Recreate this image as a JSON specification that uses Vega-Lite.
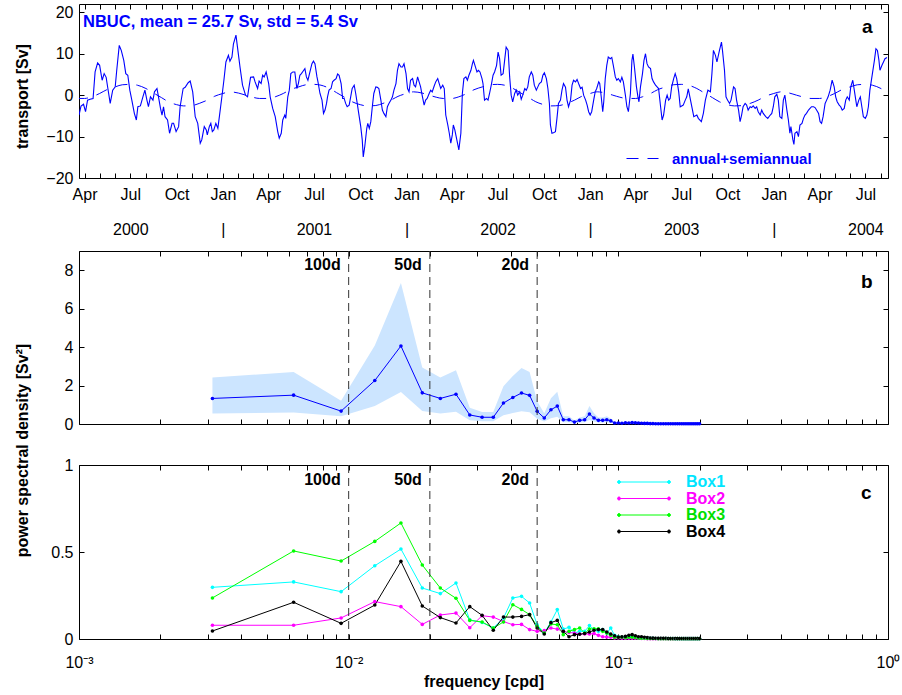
{
"$schema": "https://vega.github.io/schema/vega-lite/v6.json",
"padding": {"left": 13, "top": 3, "right": 3, "bottom": 5},
"background": "white",
"config": {
  "font": "Liberation Sans",
  "view": {"stroke": "#000000", "strokeWidth": 1},
  "axis": {"domain": false, "grid": false, "tickSize": -5, "tickColor": "#000000", "tickWidth": 1,
    "labelFont": "Liberation Sans", "labelFontSize": 16, "labelColor": "#000000",
    "titleFont": "Liberation Sans", "titleFontSize": 16, "titleFontWeight": "bold", "titleColor": "#000000",
    "labelFlush": false, "labelOverlap": false, "labelBound": false}
},
"datasets": {
"series": [
{"date":"2000-03-21","v":-4.8},{"date":"2000-03-25","v":-2.65},{"date":"2000-03-30","v":-2.2},{"date":"2000-04-03","v":-4.0},{"date":"2000-04-07","v":-1.2},{"date":"2000-04-12","v":-1.0},{"date":"2000-04-18","v":-0.8},{"date":"2000-04-22","v":5.6},{"date":"2000-04-27","v":7.8},{"date":"2000-05-01","v":7.2},{"date":"2000-05-06","v":3.6},{"date":"2000-05-10","v":5.2},{"date":"2000-05-14","v":4.3},{"date":"2000-05-17","v":1.9},{"date":"2000-05-22","v":-2.0},{"date":"2000-05-27","v":1.2},{"date":"2000-06-01","v":2.0},{"date":"2000-06-04","v":6.0},{"date":"2000-06-09","v":12.0},{"date":"2000-06-13","v":10.8},{"date":"2000-06-18","v":8.4},{"date":"2000-06-22","v":5.2},{"date":"2000-06-26","v":4.8},{"date":"2000-06-30","v":1.2},{"date":"2000-07-04","v":-1.2},{"date":"2000-07-09","v":-4.4},{"date":"2000-07-13","v":-6.0},{"date":"2000-07-16","v":-2.8},{"date":"2000-07-21","v":-2.6},{"date":"2000-07-26","v":-0.4},{"date":"2000-07-30","v":1.2},{"date":"2000-08-03","v":-1.2},{"date":"2000-08-06","v":-2.8},{"date":"2000-08-10","v":-0.4},{"date":"2000-08-15","v":-1.2},{"date":"2000-08-18","v":0.8},{"date":"2000-08-23","v":1.6},{"date":"2000-08-26","v":-0.4},{"date":"2000-08-30","v":-3.2},{"date":"2000-09-02","v":-4.8},{"date":"2000-09-05","v":-2.8},{"date":"2000-09-08","v":-5.2},{"date":"2000-09-13","v":-6.0},{"date":"2000-09-17","v":-9.2},{"date":"2000-09-22","v":-6.8},{"date":"2000-09-25","v":-6.8},{"date":"2000-09-30","v":-8.8},{"date":"2000-10-05","v":-7.6},{"date":"2000-10-08","v":-2.8},{"date":"2000-10-14","v":1.6},{"date":"2000-10-18","v":1.9},{"date":"2000-10-24","v":3.0},{"date":"2000-10-28","v":3.4},{"date":"2000-11-02","v":0.8},{"date":"2000-11-07","v":-5.2},{"date":"2000-11-12","v":-6.8},{"date":"2000-11-17","v":-11.6},{"date":"2000-11-20","v":-10.8},{"date":"2000-11-25","v":-7.6},{"date":"2000-11-29","v":-8.4},{"date":"2000-12-01","v":-9.6},{"date":"2000-12-05","v":-7.6},{"date":"2000-12-08","v":-6.8},{"date":"2000-12-11","v":-8.8},{"date":"2000-12-14","v":-8.4},{"date":"2000-12-18","v":-6.8},{"date":"2000-12-22","v":-8.0},{"date":"2000-12-25","v":-5.2},{"date":"2000-12-30","v":-0.4},
{"date":"2001-01-03","v":3.6},{"date":"2001-01-07","v":8.0},{"date":"2001-01-12","v":9.6},{"date":"2001-01-15","v":8.2},{"date":"2001-01-19","v":9.2},{"date":"2001-01-22","v":12.4},{"date":"2001-01-27","v":14.5},{"date":"2001-01-30","v":11.6},{"date":"2001-02-04","v":6.8},{"date":"2001-02-09","v":2.4},{"date":"2001-02-12","v":1.2},{"date":"2001-02-15","v":0.0},{"date":"2001-02-19","v":-0.4},{"date":"2001-02-22","v":2.0},{"date":"2001-02-25","v":4.3},{"date":"2001-03-03","v":4.4},{"date":"2001-03-06","v":3.2},{"date":"2001-03-11","v":1.6},{"date":"2001-03-14","v":3.4},{"date":"2001-03-18","v":2.8},{"date":"2001-03-21","v":4.8},{"date":"2001-03-24","v":4.4},{"date":"2001-03-28","v":5.6},{"date":"2001-04-02","v":2.8},{"date":"2001-04-05","v":-0.4},{"date":"2001-04-10","v":-3.2},{"date":"2001-04-15","v":-5.2},{"date":"2001-04-20","v":-8.8},{"date":"2001-04-23","v":-10.4},{"date":"2001-04-27","v":-9.2},{"date":"2001-04-30","v":-6.0},{"date":"2001-05-04","v":-4.8},{"date":"2001-05-06","v":-5.6},{"date":"2001-05-10","v":-0.4},{"date":"2001-05-13","v":1.2},{"date":"2001-05-16","v":5.2},{"date":"2001-05-20","v":5.6},{"date":"2001-05-24","v":5.6},{"date":"2001-05-28","v":1.6},{"date":"2001-05-31","v":2.8},{"date":"2001-06-03","v":4.8},{"date":"2001-06-06","v":5.2},{"date":"2001-06-10","v":5.9},{"date":"2001-06-13","v":6.4},{"date":"2001-06-16","v":4.4},{"date":"2001-06-19","v":3.6},{"date":"2001-06-23","v":5.6},{"date":"2001-06-27","v":7.6},{"date":"2001-06-30","v":8.2},{"date":"2001-07-03","v":7.6},{"date":"2001-07-07","v":4.4},{"date":"2001-07-09","v":3.2},{"date":"2001-07-13","v":0.4},{"date":"2001-07-17","v":-1.2},{"date":"2001-07-20","v":-4.4},{"date":"2001-07-23","v":-3.6},{"date":"2001-07-26","v":-2.0},{"date":"2001-07-28","v":-0.4},{"date":"2001-07-31","v":1.2},{"date":"2001-08-04","v":1.6},{"date":"2001-08-07","v":3.2},{"date":"2001-08-10","v":3.6},{"date":"2001-08-14","v":4.0},{"date":"2001-08-17","v":5.1},{"date":"2001-08-20","v":4.8},{"date":"2001-08-24","v":2.8},{"date":"2001-08-27","v":-0.8},{"date":"2001-08-30","v":-0.8},{"date":"2001-09-02","v":-2.0},{"date":"2001-09-05","v":-2.8},{"date":"2001-09-09","v":-2.4},{"date":"2001-09-12","v":-0.4},{"date":"2001-09-15","v":1.6},{"date":"2001-09-19","v":2.4},{"date":"2001-09-22","v":0.4},{"date":"2001-09-25","v":-2.0},{"date":"2001-09-28","v":-4.4},{"date":"2001-10-02","v":-7.6},{"date":"2001-10-05","v":-10.8},{"date":"2001-10-07","v":-14.9},{"date":"2001-10-10","v":-12.4},{"date":"2001-10-14","v":-8.0},{"date":"2001-10-16","v":-6.8},{"date":"2001-10-19","v":-8.0},{"date":"2001-10-22","v":-6.4},{"date":"2001-10-25","v":-2.8},{"date":"2001-10-28","v":0.4},{"date":"2001-11-01","v":2.0},{"date":"2001-11-04","v":1.9},{"date":"2001-11-07","v":1.6},{"date":"2001-11-11","v":-1.2},{"date":"2001-11-14","v":-3.6},{"date":"2001-11-17","v":-4.4},{"date":"2001-11-21","v":-5.2},{"date":"2001-11-24","v":-2.8},{"date":"2001-11-27","v":-2.0},{"date":"2001-12-01","v":-1.2},{"date":"2001-12-04","v":-0.4},{"date":"2001-12-07","v":1.2},{"date":"2001-12-11","v":2.8},{"date":"2001-12-14","v":6.0},{"date":"2001-12-17","v":7.6},{"date":"2001-12-21","v":6.8},{"date":"2001-12-24","v":6.8},{"date":"2001-12-27","v":7.6},{"date":"2001-12-31","v":5.2},
{"date":"2002-01-03","v":1.6},{"date":"2002-01-06","v":0.8},{"date":"2002-01-09","v":3.6},{"date":"2002-01-13","v":4.0},{"date":"2002-01-16","v":2.4},{"date":"2002-01-19","v":2.0},{"date":"2002-01-23","v":4.4},{"date":"2002-01-26","v":3.2},{"date":"2002-01-29","v":2.0},{"date":"2002-02-01","v":0.0},{"date":"2002-02-05","v":-2.4},{"date":"2002-02-08","v":-1.2},{"date":"2002-02-11","v":-0.8},{"date":"2002-02-15","v":0.4},{"date":"2002-02-18","v":1.2},{"date":"2002-02-21","v":0.8},{"date":"2002-02-25","v":2.2},{"date":"2002-02-28","v":3.2},{"date":"2002-03-04","v":4.0},{"date":"2002-03-07","v":2.8},{"date":"2002-03-10","v":1.6},{"date":"2002-03-14","v":2.4},{"date":"2002-03-17","v":1.6},{"date":"2002-03-20","v":-4.8},{"date":"2002-03-24","v":-7.2},{"date":"2002-03-27","v":-9.2},{"date":"2002-03-30","v":-11.6},{"date":"2002-04-02","v":-9.6},{"date":"2002-04-04","v":-7.2},{"date":"2002-04-07","v":-8.4},{"date":"2002-04-11","v":-10.8},{"date":"2002-04-15","v":-13.2},{"date":"2002-04-19","v":-9.2},{"date":"2002-04-22","v":0.4},{"date":"2002-04-25","v":4.0},{"date":"2002-04-29","v":4.4},{"date":"2002-05-02","v":3.6},{"date":"2002-05-05","v":4.8},{"date":"2002-05-09","v":6.0},{"date":"2002-05-12","v":7.6},{"date":"2002-05-14","v":8.4},{"date":"2002-05-17","v":7.2},{"date":"2002-05-21","v":5.6},{"date":"2002-05-24","v":6.0},{"date":"2002-05-27","v":5.6},{"date":"2002-05-31","v":4.0},{"date":"2002-06-02","v":2.8},{"date":"2002-06-05","v":-1.2},{"date":"2002-06-09","v":-0.8},{"date":"2002-06-12","v":-1.2},{"date":"2002-06-15","v":0.4},{"date":"2002-06-19","v":2.8},{"date":"2002-06-22","v":4.8},{"date":"2002-06-25","v":5.6},{"date":"2002-06-29","v":7.2},{"date":"2002-07-02","v":10.4},{"date":"2002-07-05","v":8.8},{"date":"2002-07-08","v":4.8},{"date":"2002-07-12","v":5.2},{"date":"2002-07-15","v":8.4},{"date":"2002-07-18","v":11.6},{"date":"2002-07-22","v":10.8},{"date":"2002-07-25","v":4.4},{"date":"2002-07-28","v":0.0},{"date":"2002-07-31","v":-1.6},{"date":"2002-08-04","v":0.4},{"date":"2002-08-07","v":1.2},{"date":"2002-08-10","v":0.0},{"date":"2002-08-14","v":0.8},{"date":"2002-08-17","v":-1.0},{"date":"2002-08-20","v":0.0},{"date":"2002-08-24","v":1.6},{"date":"2002-08-27","v":1.2},{"date":"2002-08-30","v":2.0},{"date":"2002-09-02","v":4.4},{"date":"2002-09-06","v":5.6},{"date":"2002-09-09","v":4.8},{"date":"2002-09-12","v":2.4},{"date":"2002-09-16","v":1.2},{"date":"2002-09-19","v":2.0},{"date":"2002-09-22","v":2.8},{"date":"2002-09-26","v":3.2},{"date":"2002-09-29","v":4.8},{"date":"2002-10-02","v":5.4},{"date":"2002-10-06","v":4.0},{"date":"2002-10-09","v":1.6},{"date":"2002-10-12","v":-2.0},{"date":"2002-10-14","v":-7.2},{"date":"2002-10-17","v":-9.2},{"date":"2002-10-20","v":-9.1},{"date":"2002-10-24","v":-8.8},{"date":"2002-10-27","v":-5.6},{"date":"2002-10-30","v":-2.0},{"date":"2002-11-03","v":-1.2},{"date":"2002-11-06","v":1.2},{"date":"2002-11-09","v":2.8},{"date":"2002-11-13","v":1.9},{"date":"2002-11-16","v":-1.2},{"date":"2002-11-19","v":-2.8},{"date":"2002-11-23","v":-1.2},{"date":"2002-11-26","v":2.4},{"date":"2002-11-29","v":3.6},{"date":"2002-12-03","v":3.2},{"date":"2002-12-06","v":3.8},{"date":"2002-12-09","v":2.8},{"date":"2002-12-13","v":1.6},{"date":"2002-12-16","v":1.9},{"date":"2002-12-19","v":0.0},{"date":"2002-12-23","v":-1.2},{"date":"2002-12-26","v":-2.4},{"date":"2002-12-29","v":-4.0},
{"date":"2003-01-01","v":-4.8},{"date":"2003-01-04","v":-4.0},{"date":"2003-01-08","v":-1.2},{"date":"2003-01-11","v":0.8},{"date":"2003-01-14","v":1.6},{"date":"2003-01-18","v":3.2},{"date":"2003-01-20","v":2.8},{"date":"2003-01-23","v":-0.4},{"date":"2003-01-26","v":-4.0},{"date":"2003-01-28","v":-1.6},{"date":"2003-01-31","v":4.0},{"date":"2003-02-03","v":7.2},{"date":"2003-02-06","v":9.2},{"date":"2003-02-10","v":8.8},{"date":"2003-02-13","v":9.1},{"date":"2003-02-16","v":7.2},{"date":"2003-02-20","v":4.4},{"date":"2003-02-23","v":3.6},{"date":"2003-02-26","v":4.0},{"date":"2003-03-02","v":3.2},{"date":"2003-03-05","v":4.3},{"date":"2003-03-08","v":3.2},{"date":"2003-03-12","v":0.0},{"date":"2003-03-15","v":-2.8},{"date":"2003-03-18","v":-4.0},{"date":"2003-03-22","v":0.4},{"date":"2003-03-25","v":8.4},{"date":"2003-03-27","v":9.9},{"date":"2003-03-30","v":6.8},{"date":"2003-04-03","v":2.0},{"date":"2003-04-06","v":-0.4},{"date":"2003-04-08","v":-1.6},{"date":"2003-04-11","v":2.0},{"date":"2003-04-15","v":5.2},{"date":"2003-04-18","v":8.4},{"date":"2003-04-21","v":10.0},{"date":"2003-04-24","v":7.6},{"date":"2003-04-27","v":6.8},{"date":"2003-05-01","v":6.4},{"date":"2003-05-04","v":4.0},{"date":"2003-05-07","v":3.2},{"date":"2003-05-11","v":2.4},{"date":"2003-05-14","v":2.0},{"date":"2003-05-17","v":1.6},{"date":"2003-05-21","v":-2.8},{"date":"2003-05-24","v":-6.0},{"date":"2003-05-27","v":-4.8},{"date":"2003-05-31","v":-1.2},{"date":"2003-06-03","v":0.0},{"date":"2003-06-06","v":-1.2},{"date":"2003-06-09","v":-0.8},{"date":"2003-06-12","v":2.0},{"date":"2003-06-16","v":4.0},{"date":"2003-06-19","v":5.2},{"date":"2003-06-22","v":4.0},{"date":"2003-06-26","v":0.8},{"date":"2003-06-29","v":-2.8},{"date":"2003-07-02","v":-2.6},{"date":"2003-07-05","v":-2.4},{"date":"2003-07-09","v":-1.2},{"date":"2003-07-12","v":-0.4},{"date":"2003-07-15","v":1.5},{"date":"2003-07-26","v":-5.2},{"date":"2003-08-01","v":-4.8},{"date":"2003-08-04","v":-5.6},{"date":"2003-08-10","v":-6.4},{"date":"2003-08-14","v":-4.4},{"date":"2003-08-18","v":-1.2},{"date":"2003-08-23","v":1.2},{"date":"2003-08-28","v":0.8},{"date":"2003-08-31","v":5.2},{"date":"2003-09-03","v":10.8},{"date":"2003-09-07","v":9.6},{"date":"2003-09-10","v":8.0},{"date":"2003-09-15","v":10.8},{"date":"2003-09-19","v":12.8},{"date":"2003-09-21","v":10.8},{"date":"2003-09-25","v":6.0},{"date":"2003-09-28","v":-0.4},{"date":"2003-10-01","v":-1.2},{"date":"2003-10-05","v":-2.0},{"date":"2003-10-08","v":-1.2},{"date":"2003-10-13","v":2.0},{"date":"2003-10-16","v":1.6},{"date":"2003-10-19","v":-1.2},{"date":"2003-10-23","v":-3.6},{"date":"2003-10-26","v":-6.4},{"date":"2003-10-29","v":-4.8},{"date":"2003-11-01","v":-2.8},{"date":"2003-11-05","v":-2.0},{"date":"2003-11-08","v":-2.4},{"date":"2003-11-11","v":-3.6},{"date":"2003-11-15","v":-2.8},{"date":"2003-11-18","v":-3.0},{"date":"2003-11-21","v":-2.6},{"date":"2003-11-25","v":-3.2},{"date":"2003-11-28","v":-2.8},{"date":"2003-12-01","v":-4.0},{"date":"2003-12-05","v":-4.8},{"date":"2003-12-08","v":-3.6},{"date":"2003-12-11","v":-4.4},{"date":"2003-12-16","v":-5.2},{"date":"2003-12-20","v":-5.6},{"date":"2003-12-25","v":-4.8},{"date":"2003-12-28","v":-4.4},{"date":"2003-12-31","v":-2.8},
{"date":"2004-01-03","v":-0.4},{"date":"2004-01-07","v":0.2},{"date":"2004-01-10","v":-1.2},{"date":"2004-01-13","v":-5.2},{"date":"2004-01-17","v":-5.6},{"date":"2004-01-20","v":-1.2},{"date":"2004-01-23","v":0.0},{"date":"2004-01-27","v":-3.6},{"date":"2004-01-30","v":-6.0},{"date":"2004-02-02","v":-9.2},{"date":"2004-02-04","v":-7.6},{"date":"2004-02-08","v":-10.8},{"date":"2004-02-10","v":-11.9},{"date":"2004-02-12","v":-9.2},{"date":"2004-02-16","v":-8.8},{"date":"2004-02-19","v":-10.0},{"date":"2004-02-22","v":-7.2},{"date":"2004-02-26","v":-6.8},{"date":"2004-02-29","v":-5.6},{"date":"2004-03-03","v":-4.8},{"date":"2004-03-06","v":-4.4},{"date":"2004-03-10","v":-3.6},{"date":"2004-03-13","v":-3.2},{"date":"2004-03-16","v":-2.8},{"date":"2004-03-20","v":-2.8},{"date":"2004-03-23","v":-3.0},{"date":"2004-03-26","v":-3.6},{"date":"2004-03-30","v":-4.4},{"date":"2004-04-02","v":-6.4},{"date":"2004-04-05","v":-6.8},{"date":"2004-04-08","v":-5.2},{"date":"2004-04-12","v":-2.0},{"date":"2004-04-15","v":-1.2},{"date":"2004-04-18","v":-0.4},{"date":"2004-04-22","v":1.2},{"date":"2004-04-26","v":3.6},{"date":"2004-04-30","v":2.0},{"date":"2004-05-03","v":-0.4},{"date":"2004-05-06","v":-1.6},{"date":"2004-05-10","v":-2.4},{"date":"2004-05-13","v":-2.8},{"date":"2004-05-16","v":-3.6},{"date":"2004-05-20","v":-3.2},{"date":"2004-05-23","v":-1.2},{"date":"2004-05-26","v":-0.4},{"date":"2004-05-30","v":-1.2},{"date":"2004-06-02","v":2.0},{"date":"2004-06-06","v":3.6},{"date":"2004-06-09","v":1.2},{"date":"2004-06-12","v":-1.2},{"date":"2004-06-14","v":-2.8},{"date":"2004-06-18","v":-1.2},{"date":"2004-06-21","v":-0.4},{"date":"2004-06-24","v":-2.8},{"date":"2004-06-27","v":-5.2},{"date":"2004-07-01","v":-5.6},{"date":"2004-07-04","v":-4.8},{"date":"2004-07-07","v":-2.8},{"date":"2004-07-10","v":1.2},{"date":"2004-07-15","v":5.2},{"date":"2004-07-19","v":8.4},{"date":"2004-07-22","v":11.2},{"date":"2004-07-25","v":10.8},{"date":"2004-07-28","v":8.4},{"date":"2004-07-30","v":6.0},{"date":"2004-08-03","v":7.2},{"date":"2004-08-06","v":8.0},{"date":"2004-08-09","v":8.8},{"date":"2004-08-13","v":9.1}
],
"seasonal": [
{"date":"2000-03-15","v":-0.8},{"date":"2000-04-01","v":-0.8},{"date":"2000-04-15","v":-0.4},{"date":"2000-05-01","v":0.4},{"date":"2000-05-15","v":1.3},{"date":"2000-06-01","v":2.0},{"date":"2000-06-15","v":2.5},{"date":"2000-07-01","v":2.6},{"date":"2000-07-15","v":2.4},{"date":"2000-08-01","v":1.6},{"date":"2000-08-15","v":0.6},{"date":"2000-09-01","v":-0.6},{"date":"2000-09-15","v":-1.6},{"date":"2000-10-01","v":-2.3},{"date":"2000-10-15","v":-2.6},{"date":"2000-11-01","v":-2.5},{"date":"2000-11-15","v":-2.0},{"date":"2000-12-01","v":-1.2},{"date":"2000-12-15","v":-0.3},
{"date":"2001-01-01","v":0.4},{"date":"2001-01-15","v":0.8},{"date":"2001-02-01","v":0.5},{"date":"2001-02-15","v":0.0},{"date":"2001-03-01","v":-0.5},{"date":"2001-03-15","v":-0.8},{"date":"2001-04-01","v":-0.8},{"date":"2001-04-15","v":-0.4},{"date":"2001-05-01","v":0.4},{"date":"2001-05-15","v":1.3},{"date":"2001-06-01","v":2.0},{"date":"2001-06-15","v":2.5},{"date":"2001-07-01","v":2.6},{"date":"2001-07-15","v":2.4},{"date":"2001-08-01","v":1.6},{"date":"2001-08-15","v":0.6},{"date":"2001-09-01","v":-0.6},{"date":"2001-09-15","v":-1.6},{"date":"2001-10-01","v":-2.3},{"date":"2001-10-15","v":-2.6},{"date":"2001-11-01","v":-2.5},{"date":"2001-11-15","v":-2.0},{"date":"2001-12-01","v":-1.2},{"date":"2001-12-15","v":-0.3},
{"date":"2002-01-01","v":0.4},{"date":"2002-01-15","v":0.8},{"date":"2002-02-01","v":0.5},{"date":"2002-02-15","v":0.0},{"date":"2002-03-01","v":-0.5},{"date":"2002-03-15","v":-0.8},{"date":"2002-04-01","v":-0.8},{"date":"2002-04-15","v":-0.4},{"date":"2002-05-01","v":0.4},{"date":"2002-05-15","v":1.3},{"date":"2002-06-01","v":2.0},{"date":"2002-06-15","v":2.5},{"date":"2002-07-01","v":2.6},{"date":"2002-07-15","v":2.4},{"date":"2002-08-01","v":1.6},{"date":"2002-08-15","v":0.6},{"date":"2002-09-01","v":-0.6},{"date":"2002-09-15","v":-1.6},{"date":"2002-10-01","v":-2.3},{"date":"2002-10-15","v":-2.6},{"date":"2002-11-01","v":-2.5},{"date":"2002-11-15","v":-2.0},{"date":"2002-12-01","v":-1.2},{"date":"2002-12-15","v":-0.3},
{"date":"2003-01-01","v":0.4},{"date":"2003-01-15","v":0.8},{"date":"2003-02-01","v":0.5},{"date":"2003-02-15","v":0.0},{"date":"2003-03-01","v":-0.5},{"date":"2003-03-15","v":-0.8},{"date":"2003-04-01","v":-0.8},{"date":"2003-04-15","v":-0.4},{"date":"2003-05-01","v":0.4},{"date":"2003-05-15","v":1.3},{"date":"2003-06-01","v":2.0},{"date":"2003-06-15","v":2.5},{"date":"2003-07-01","v":2.6},{"date":"2003-07-15","v":2.4},{"date":"2003-08-01","v":1.6},{"date":"2003-08-15","v":0.6},{"date":"2003-09-01","v":-0.6},{"date":"2003-09-15","v":-1.6},{"date":"2003-10-01","v":-2.3},{"date":"2003-10-15","v":-2.6},{"date":"2003-11-01","v":-2.5},{"date":"2003-11-15","v":-2.0},{"date":"2003-12-01","v":-1.2},{"date":"2003-12-15","v":-0.3},
{"date":"2004-01-01","v":0.4},{"date":"2004-01-15","v":0.8},{"date":"2004-02-01","v":0.5},{"date":"2004-02-15","v":0.0},{"date":"2004-03-01","v":-0.5},{"date":"2004-03-15","v":-0.8},{"date":"2004-04-01","v":-0.8},{"date":"2004-04-15","v":-0.4},{"date":"2004-05-01","v":0.4},{"date":"2004-05-15","v":1.3},{"date":"2004-06-01","v":2.0},{"date":"2004-06-15","v":2.5},{"date":"2004-07-01","v":2.6},{"date":"2004-07-15","v":2.4},{"date":"2004-08-01","v":1.6},{"date":"2004-08-15","v":0.6}
],
"psd": [
{"f":0.003125,"psd":1.33,"lo":0.55,"hi":2.42},{"f":0.00625,"psd":1.5,"lo":0.6,"hi":2.71},{"f":0.009375,"psd":0.67,"lo":0.4,"hi":1.21},{"f":0.0125,"psd":2.26,"lo":0.93,"hi":4.08},{"f":0.015625,"psd":4.06,"lo":1.66,"hi":7.34},{"f":0.01875,"psd":1.62,"lo":0.67,"hi":2.94},{"f":0.021875,"psd":1.33,"lo":0.55,"hi":2.42},{"f":0.025,"psd":1.55,"lo":0.64,"hi":2.8},{"f":0.028125,"psd":0.47,"lo":0.19,"hi":0.85},{"f":0.03125,"psd":0.35,"lo":0.14,"hi":0.63},{"f":0.034375,"psd":0.35,"lo":0.14,"hi":0.63},{"f":0.0375,"psd":1.09,"lo":0.45,"hi":1.97},{"f":0.040625,"psd":1.38,"lo":0.57,"hi":2.5},{"f":0.04375,"psd":1.61,"lo":0.66,"hi":2.91},{"f":0.046875,"psd":1.49,"lo":0.61,"hi":2.7},{"f":0.05,"psd":0.66,"lo":0.27,"hi":1.19},{"f":0.053125,"psd":0.31,"lo":0.13,"hi":0.56},{"f":0.05625,"psd":0.74,"lo":0.3,"hi":1.34},{"f":0.059375,"psd":0.93,"lo":0.38,"hi":1.68},{"f":0.0625,"psd":0.22,"lo":0.09,"hi":0.4},{"f":0.065625,"psd":0.22,"lo":0.09,"hi":0.4},{"f":0.06875,"psd":0.1,"lo":0.04,"hi":0.18},{"f":0.071875,"psd":0.19,"lo":0.08,"hi":0.34},{"f":0.075,"psd":0.22,"lo":0.09,"hi":0.4},{"f":0.078125,"psd":0.52,"lo":0.21,"hi":0.94},{"f":0.08125,"psd":0.31,"lo":0.13,"hi":0.56},{"f":0.084375,"psd":0.19,"lo":0.08,"hi":0.34},{"f":0.0875,"psd":0.19,"lo":0.08,"hi":0.34},{"f":0.090625,"psd":0.22,"lo":0.09,"hi":0.4},{"f":0.09375,"psd":0.16,"lo":0.07,"hi":0.29},{"f":0.096875,"psd":0.05,"lo":0.02,"hi":0.09},{"f":0.1,"psd":0.05,"lo":0.02,"hi":0.09},{"f":0.103125,"psd":0.04,"lo":0.02,"hi":0.07},{"f":0.10625,"psd":0.06,"lo":0.02,"hi":0.11},{"f":0.109375,"psd":0.05,"lo":0.02,"hi":0.09},{"f":0.1125,"psd":0.07,"lo":0.03,"hi":0.13},{"f":0.115625,"psd":0.06,"lo":0.02,"hi":0.11},{"f":0.11875,"psd":0.05,"lo":0.02,"hi":0.09},{"f":0.121875,"psd":0.04,"lo":0.02,"hi":0.07},{"f":0.125,"psd":0.03,"lo":0.01,"hi":0.05},{"f":0.128125,"psd":0.03,"lo":0.01,"hi":0.05},{"f":0.13125,"psd":0.02,"lo":0.01,"hi":0.04},{"f":0.134375,"psd":0.02,"lo":0.01,"hi":0.04},{"f":0.1375,"psd":0.01,"lo":0.004,"hi":0.02},{"f":0.140625,"psd":0.01,"lo":0.004,"hi":0.02},{"f":0.14375,"psd":0.01,"lo":0.004,"hi":0.02},{"f":0.146875,"psd":0.01,"lo":0.004,"hi":0.02},{"f":0.15,"psd":0.01,"lo":0.004,"hi":0.02},{"f":0.153125,"psd":0.01,"lo":0.004,"hi":0.02},{"f":0.15625,"psd":0.01,"lo":0.004,"hi":0.02},{"f":0.159375,"psd":0.01,"lo":0.004,"hi":0.02},{"f":0.1625,"psd":0.01,"lo":0.004,"hi":0.02},{"f":0.165625,"psd":0.01,"lo":0.004,"hi":0.02},{"f":0.16875,"psd":0.01,"lo":0.004,"hi":0.02},{"f":0.171875,"psd":0.01,"lo":0.004,"hi":0.02},{"f":0.175,"psd":0.01,"lo":0.004,"hi":0.02},{"f":0.178125,"psd":0.01,"lo":0.004,"hi":0.02},{"f":0.18125,"psd":0.01,"lo":0.004,"hi":0.02},{"f":0.184375,"psd":0.01,"lo":0.004,"hi":0.02},{"f":0.1875,"psd":0.01,"lo":0.004,"hi":0.02},{"f":0.190625,"psd":0.01,"lo":0.004,"hi":0.02},{"f":0.19375,"psd":0.01,"lo":0.004,"hi":0.02},{"f":0.196875,"psd":0.01,"lo":0.004,"hi":0.02},{"f":0.2,"psd":0.01,"lo":0.004,"hi":0.02}
],
"boxes": [
{"f":0.003125,"box":"Box1","p":0.297},{"f":0.003125,"box":"Box2","p":0.079},{"f":0.003125,"box":"Box3","p":0.236},{"f":0.003125,"box":"Box4","p":0.046},
{"f":0.00625,"box":"Box1","p":0.328},{"f":0.00625,"box":"Box2","p":0.079},{"f":0.00625,"box":"Box3","p":0.506},{"f":0.00625,"box":"Box4","p":0.211},
{"f":0.009375,"box":"Box1","p":0.272},{"f":0.009375,"box":"Box2","p":0.121},{"f":0.009375,"box":"Box3","p":0.448},{"f":0.009375,"box":"Box4","p":0.09},
{"f":0.0125,"box":"Box1","p":0.421},{"f":0.0125,"box":"Box2","p":0.215},{"f":0.0125,"box":"Box3","p":0.561},{"f":0.0125,"box":"Box4","p":0.195},
{"f":0.015625,"box":"Box1","p":0.517},{"f":0.015625,"box":"Box2","p":0.186},{"f":0.015625,"box":"Box3","p":0.667},{"f":0.015625,"box":"Box4","p":0.446},
{"f":0.01875,"box":"Box1","p":0.293},{"f":0.01875,"box":"Box2","p":0.084},{"f":0.01875,"box":"Box3","p":0.425},{"f":0.01875,"box":"Box4","p":0.19},
{"f":0.021875,"box":"Box1","p":0.261},{"f":0.021875,"box":"Box2","p":0.138},{"f":0.021875,"box":"Box3","p":0.293},{"f":0.021875,"box":"Box4","p":0.123},
{"f":0.025,"box":"Box1","p":0.322},{"f":0.025,"box":"Box2","p":0.149},{"f":0.025,"box":"Box3","p":0.234},{"f":0.025,"box":"Box4","p":0.092},
{"f":0.028125,"box":"Box1","p":0.11},{"f":0.028125,"box":"Box2","p":0.065},{"f":0.028125,"box":"Box3","p":0.107},{"f":0.028125,"box":"Box4","p":0.186},
{"f":0.03125,"box":"Box1","p":0.095},{"f":0.03125,"box":"Box2","p":0.134},{"f":0.03125,"box":"Box3","p":0.098},{"f":0.03125,"box":"Box4","p":0.136},
{"f":0.034375,"box":"Box1","p":0.063},{"f":0.034375,"box":"Box2","p":0.126},{"f":0.034375,"box":"Box3","p":0.063},{"f":0.034375,"box":"Box4","p":0.05},
{"f":0.0375,"box":"Box1","p":0.12},{"f":0.0375,"box":"Box2","p":0.1},{"f":0.0375,"box":"Box3","p":0.098},{"f":0.0375,"box":"Box4","p":0.126},
{"f":0.040625,"box":"Box1","p":0.236},{"f":0.040625,"box":"Box2","p":0.082},{"f":0.040625,"box":"Box3","p":0.197},{"f":0.040625,"box":"Box4","p":0.126},
{"f":0.04375,"box":"Box1","p":0.245},{"f":0.04375,"box":"Box2","p":0.084},{"f":0.04375,"box":"Box3","p":0.17},{"f":0.04375,"box":"Box4","p":0.13},
{"f":0.046875,"box":"Box1","p":0.207},{"f":0.046875,"box":"Box2","p":0.054},{"f":0.046875,"box":"Box3","p":0.14},{"f":0.046875,"box":"Box4","p":0.14},
{"f":0.05,"box":"Box1","p":0.082},{"f":0.05,"box":"Box2","p":0.044},{"f":0.05,"box":"Box3","p":0.073},{"f":0.05,"box":"Box4","p":0.063},
{"f":0.053125,"box":"Box1","p":0.034},{"f":0.053125,"box":"Box2","p":0.048},{"f":0.053125,"box":"Box3","p":0.034},{"f":0.053125,"box":"Box4","p":0.029},
{"f":0.05625,"box":"Box1","p":0.098},{"f":0.05625,"box":"Box2","p":0.063},{"f":0.05625,"box":"Box3","p":0.086},{"f":0.05625,"box":"Box4","p":0.094},
{"f":0.059375,"box":"Box1","p":0.169},{"f":0.059375,"box":"Box2","p":0.057},{"f":0.059375,"box":"Box3","p":0.082},{"f":0.059375,"box":"Box4","p":0.107},
{"f":0.0625,"box":"Box1","p":0.057},{"f":0.0625,"box":"Box2","p":0.044},{"f":0.0625,"box":"Box3","p":0.025},{"f":0.0625,"box":"Box4","p":0.044},
{"f":0.065625,"box":"Box1","p":0.067},{"f":0.065625,"box":"Box2","p":0.038},{"f":0.065625,"box":"Box3","p":0.044},{"f":0.065625,"box":"Box4","p":0.013},
{"f":0.06875,"box":"Box1","p":0.034},{"f":0.06875,"box":"Box2","p":0.034},{"f":0.06875,"box":"Box3","p":0.054},{"f":0.06875,"box":"Box4","p":0.025},
{"f":0.071875,"box":"Box1","p":0.044},{"f":0.071875,"box":"Box2","p":0.029},{"f":0.071875,"box":"Box3","p":0.063},{"f":0.071875,"box":"Box4","p":0.027},
{"f":0.075,"box":"Box1","p":0.044},{"f":0.075,"box":"Box2","p":0.029},{"f":0.075,"box":"Box3","p":0.034},{"f":0.075,"box":"Box4","p":0.032},
{"f":0.078125,"box":"Box1","p":0.077},{"f":0.078125,"box":"Box2","p":0.029},{"f":0.078125,"box":"Box3","p":0.057},{"f":0.078125,"box":"Box4","p":0.04},
{"f":0.08125,"box":"Box1","p":0.054},{"f":0.08125,"box":"Box2","p":0.031},{"f":0.08125,"box":"Box3","p":0.059},{"f":0.08125,"box":"Box4","p":0.05},
{"f":0.084375,"box":"Box1","p":0.044},{"f":0.084375,"box":"Box2","p":0.021},{"f":0.084375,"box":"Box3","p":0.059},{"f":0.084375,"box":"Box4","p":0.054},
{"f":0.0875,"box":"Box1","p":0.054},{"f":0.0875,"box":"Box2","p":0.013},{"f":0.0875,"box":"Box3","p":0.044},{"f":0.0875,"box":"Box4","p":0.054},
{"f":0.090625,"box":"Box1","p":0.034},{"f":0.090625,"box":"Box2","p":0.011},{"f":0.090625,"box":"Box3","p":0.034},{"f":0.090625,"box":"Box4","p":0.04},
{"f":0.09375,"box":"Box1","p":0.063},{"f":0.09375,"box":"Box2","p":0.01},{"f":0.09375,"box":"Box3","p":0.021},{"f":0.09375,"box":"Box4","p":0.029},
{"f":0.096875,"box":"Box1","p":0.021},{"f":0.096875,"box":"Box2","p":0.006},{"f":0.096875,"box":"Box3","p":0.01},{"f":0.096875,"box":"Box4","p":0.019},
{"f":0.1,"box":"Box1","p":0.013},{"f":0.1,"box":"Box2","p":0.006},{"f":0.1,"box":"Box3","p":0.01},{"f":0.1,"box":"Box4","p":0.011},
{"f":0.103125,"box":"Box1","p":0.01},{"f":0.103125,"box":"Box2","p":0.004},{"f":0.103125,"box":"Box3","p":0.01},{"f":0.103125,"box":"Box4","p":0.013},
{"f":0.10625,"box":"Box1","p":0.013},{"f":0.10625,"box":"Box2","p":0.004},{"f":0.10625,"box":"Box3","p":0.008},{"f":0.10625,"box":"Box4","p":0.015},
{"f":0.109375,"box":"Box1","p":0.01},{"f":0.109375,"box":"Box2","p":0.004},{"f":0.109375,"box":"Box3","p":0.01},{"f":0.109375,"box":"Box4","p":0.021},
{"f":0.1125,"box":"Box1","p":0.013},{"f":0.1125,"box":"Box2","p":0.004},{"f":0.1125,"box":"Box3","p":0.01},{"f":0.1125,"box":"Box4","p":0.025},
{"f":0.115625,"box":"Box1","p":0.008},{"f":0.115625,"box":"Box2","p":0.004},{"f":0.115625,"box":"Box3","p":0.008},{"f":0.115625,"box":"Box4","p":0.019},
{"f":0.11875,"box":"Box1","p":0.006},{"f":0.11875,"box":"Box2","p":0.004},{"f":0.11875,"box":"Box3","p":0.006},{"f":0.11875,"box":"Box4","p":0.013},
{"f":0.121875,"box":"Box1","p":0.006},{"f":0.121875,"box":"Box2","p":0.003},{"f":0.121875,"box":"Box3","p":0.005},{"f":0.121875,"box":"Box4","p":0.013},
{"f":0.125,"box":"Box1","p":0.005},{"f":0.125,"box":"Box2","p":0.003},{"f":0.125,"box":"Box3","p":0.004},{"f":0.125,"box":"Box4","p":0.01},
{"f":0.128125,"box":"Box1","p":0.004},{"f":0.128125,"box":"Box2","p":0.002},{"f":0.128125,"box":"Box3","p":0.003},{"f":0.128125,"box":"Box4","p":0.008},
{"f":0.13125,"box":"Box1","p":0.004},{"f":0.13125,"box":"Box2","p":0.002},{"f":0.13125,"box":"Box3","p":0.003},{"f":0.13125,"box":"Box4","p":0.006},
{"f":0.134375,"box":"Box1","p":0.004},{"f":0.134375,"box":"Box2","p":0.002},{"f":0.134375,"box":"Box3","p":0.003},{"f":0.134375,"box":"Box4","p":0.005},
{"f":0.1375,"box":"Box1","p":0.003},{"f":0.1375,"box":"Box2","p":0.002},{"f":0.1375,"box":"Box3","p":0.003},{"f":0.1375,"box":"Box4","p":0.004},
{"f":0.140625,"box":"Box1","p":0.003},{"f":0.140625,"box":"Box2","p":0.002},{"f":0.140625,"box":"Box3","p":0.002},{"f":0.140625,"box":"Box4","p":0.004},
{"f":0.14375,"box":"Box1","p":0.003},{"f":0.14375,"box":"Box2","p":0.002},{"f":0.14375,"box":"Box3","p":0.002},{"f":0.14375,"box":"Box4","p":0.004},
{"f":0.146875,"box":"Box1","p":0.003},{"f":0.146875,"box":"Box2","p":0.002},{"f":0.146875,"box":"Box3","p":0.002},{"f":0.146875,"box":"Box4","p":0.004},
{"f":0.15,"box":"Box1","p":0.003},{"f":0.15,"box":"Box2","p":0.002},{"f":0.15,"box":"Box3","p":0.002},{"f":0.15,"box":"Box4","p":0.004},
{"f":0.153125,"box":"Box1","p":0.003},{"f":0.153125,"box":"Box2","p":0.002},{"f":0.153125,"box":"Box3","p":0.002},{"f":0.153125,"box":"Box4","p":0.003},
{"f":0.15625,"box":"Box1","p":0.003},{"f":0.15625,"box":"Box2","p":0.002},{"f":0.15625,"box":"Box3","p":0.002},{"f":0.15625,"box":"Box4","p":0.003},
{"f":0.159375,"box":"Box1","p":0.003},{"f":0.159375,"box":"Box2","p":0.002},{"f":0.159375,"box":"Box3","p":0.002},{"f":0.159375,"box":"Box4","p":0.003},
{"f":0.1625,"box":"Box1","p":0.002},{"f":0.1625,"box":"Box2","p":0.002},{"f":0.1625,"box":"Box3","p":0.002},{"f":0.1625,"box":"Box4","p":0.003},
{"f":0.165625,"box":"Box1","p":0.002},{"f":0.165625,"box":"Box2","p":0.002},{"f":0.165625,"box":"Box3","p":0.002},{"f":0.165625,"box":"Box4","p":0.003},
{"f":0.16875,"box":"Box1","p":0.002},{"f":0.16875,"box":"Box2","p":0.002},{"f":0.16875,"box":"Box3","p":0.002},{"f":0.16875,"box":"Box4","p":0.003},
{"f":0.171875,"box":"Box1","p":0.002},{"f":0.171875,"box":"Box2","p":0.002},{"f":0.171875,"box":"Box3","p":0.002},{"f":0.171875,"box":"Box4","p":0.003},
{"f":0.175,"box":"Box1","p":0.002},{"f":0.175,"box":"Box2","p":0.002},{"f":0.175,"box":"Box3","p":0.002},{"f":0.175,"box":"Box4","p":0.003},
{"f":0.178125,"box":"Box1","p":0.002},{"f":0.178125,"box":"Box2","p":0.002},{"f":0.178125,"box":"Box3","p":0.002},{"f":0.178125,"box":"Box4","p":0.003},
{"f":0.18125,"box":"Box1","p":0.002},{"f":0.18125,"box":"Box2","p":0.002},{"f":0.18125,"box":"Box3","p":0.002},{"f":0.18125,"box":"Box4","p":0.003},
{"f":0.184375,"box":"Box1","p":0.002},{"f":0.184375,"box":"Box2","p":0.002},{"f":0.184375,"box":"Box3","p":0.002},{"f":0.184375,"box":"Box4","p":0.003},
{"f":0.1875,"box":"Box1","p":0.002},{"f":0.1875,"box":"Box2","p":0.002},{"f":0.1875,"box":"Box3","p":0.002},{"f":0.1875,"box":"Box4","p":0.003},
{"f":0.190625,"box":"Box1","p":0.002},{"f":0.190625,"box":"Box2","p":0.002},{"f":0.190625,"box":"Box3","p":0.002},{"f":0.190625,"box":"Box4","p":0.003},
{"f":0.19375,"box":"Box1","p":0.002},{"f":0.19375,"box":"Box2","p":0.002},{"f":0.19375,"box":"Box3","p":0.002},{"f":0.19375,"box":"Box4","p":0.003},
{"f":0.196875,"box":"Box1","p":0.002},{"f":0.196875,"box":"Box2","p":0.002},{"f":0.196875,"box":"Box3","p":0.002},{"f":0.196875,"box":"Box4","p":0.003},
{"f":0.2,"box":"Box1","p":0.002},{"f":0.2,"box":"Box2","p":0.002},{"f":0.2,"box":"Box3","p":0.002},{"f":0.2,"box":"Box4","p":0.003}
],
"periods": [{"f":0.01,"label":"100d"},{"f":0.02,"label":"50d"},{"f":0.05,"label":"20d"}]
},
"resolve": {"scale": {"x": "independent", "y": "independent"}},
"bounds": "flush",
"spacing": 73,
"vconcat": [
{
  "width": 809, "height": 174,
  "resolve": {"axis": {"x": "independent", "y": "independent"}},
  "layer": [
    {
      "data": {"name": "seasonal"},
      "mark": {"type": "line", "color": "#0000ff", "strokeWidth": 1, "interpolate": "monotone", "clip": true},
      "encoding": {
        "x": {"field": "date", "type": "temporal",
          "scale": {"type": "utc", "domain": [{"year": 2000, "month": 3, "date": 21, "utc": true}, {"year": 2004, "month": 8, "date": 15, "utc": true}]},
          "axis": {"orient": "bottom", "title": null, "tickCount": {"interval": "month", "step": 1}, "labelPadding": 13, "labelBaseline": "top", "labelLineHeight": 35,
            "labelExpr": "utcmonth(datum.value) == 6 ? ['Jul', utcFormat(datum.value, '%Y')] : utcmonth(datum.value) == 0 ? ['Jan', '|'] : utcmonth(datum.value) == 3 ? 'Apr' : utcmonth(datum.value) == 9 ? 'Oct' : ''"}},
        "y": {"field": "v", "type": "quantitative", "scale": {"domain": [-20, 22], "nice": false},
          "axis": {"orient": "left", "values": [-20, -10, 0, 10, 20], "title": "transport [Sv]", "labelPadding": 11, "titleX": -57, "titleY": 92, "titleAngle": 270, "titleBaseline": "middle", "titleAlign": "center"}},
        "strokeDash": {"datum": "annual+semiannual", "type": "nominal", "scale": {"range": [[12, 9]]},
          "legend": {"orient": "none", "legendX": 547, "legendY": 138, "title": null, "padding": 0, "symbolType": "stroke", "symbolSize": 1024, "symbolStrokeColor": "#0000ff", "symbolStrokeWidth": 1, "symbolDash": [12, 9], "labelFontSize": 15, "labelFontWeight": "bold", "labelColor": "#0000ff", "labelOffset": 13}}
      }
    },
    {
      "data": {"name": "series"},
      "mark": {"type": "line", "color": "#0000ff", "strokeWidth": 1.1, "clip": true},
      "encoding": {
        "x": {"field": "date", "type": "temporal",
          "scale": {"type": "utc", "domain": [{"year": 2000, "month": 3, "date": 21, "utc": true}, {"year": 2004, "month": 8, "date": 15, "utc": true}]},
          "axis": {"orient": "top", "title": null, "labels": false, "tickCount": {"interval": "month", "step": 1}}},
        "y": {"field": "v", "type": "quantitative", "scale": {"domain": [-20, 22], "nice": false},
          "axis": {"orient": "right", "values": [-20, -10, 0, 10, 20], "labels": false, "title": null}}
      }
    },
    {
      "data": {"values": [{"date": "2000-03-29", "v": 17.7, "t": "NBUC, mean = 25.7 Sv, std = 5.4 Sv"}]},
      "mark": {"type": "text", "align": "left", "baseline": "middle", "fontSize": 16.5, "fontWeight": "bold", "color": "#0000ff"},
      "encoding": {
        "x": {"field": "date", "type": "temporal", "scale": {"type": "utc", "domain": [{"year": 2000, "month": 3, "date": 21, "utc": true}, {"year": 2004, "month": 8, "date": 15, "utc": true}]}, "axis": null},
        "y": {"field": "v", "type": "quantitative", "scale": {"domain": [-20, 22], "nice": false}, "axis": null},
        "text": {"field": "t"}
      }
    },
    {
      "data": {"values": [{"date": "2004-07-05", "v": 16.4, "t": "a"}]},
      "mark": {"type": "text", "align": "center", "baseline": "middle", "fontSize": 19, "fontWeight": "bold", "color": "#000000"},
      "encoding": {
        "x": {"field": "date", "type": "temporal", "scale": {"type": "utc", "domain": [{"year": 2000, "month": 3, "date": 21, "utc": true}, {"year": 2004, "month": 8, "date": 15, "utc": true}]}, "axis": null},
        "y": {"field": "v", "type": "quantitative", "scale": {"domain": [-20, 22], "nice": false}, "axis": null},
        "text": {"field": "t"}
      }
    }
  ]
},
{
  "bounds": "flush",
  "spacing": 41,
  "resolve": {"scale": {"x": "independent", "y": "independent"}},
  "vconcat": [
    {
      "width": 809, "height": 173,
      "resolve": {"axis": {"x": "independent", "y": "independent"}},
      "layer": [
        {
          "data": {"name": "psd"},
          "mark": {"type": "area", "color": "#cce5ff", "opacity": 1},
          "encoding": {
            "x": {"field": "f", "type": "quantitative", "scale": {"type": "log", "domain": [0.001, 1]},
              "axis": {"orient": "bottom", "title": null, "labels": false, "values": [0.001,0.002,0.003,0.004,0.005,0.006,0.007,0.008,0.009,0.01,0.02,0.03,0.04,0.05,0.06,0.07,0.08,0.09,0.1,0.2,0.3,0.4,0.5,0.6,0.7,0.8,0.9,1]}},
            "y": {"field": "lo", "type": "quantitative", "scale": {"domain": [0, 9], "nice": false},
              "axis": {"orient": "left", "values": [0, 2, 4, 6, 8], "title": null, "labelPadding": 11}},
            "y2": {"field": "hi"}
          }
        },
        {
          "data": {"name": "psd"},
          "mark": {"type": "line", "color": "#0000ff", "strokeWidth": 1, "point": {"filled": true, "size": 13, "color": "#0000ff"}},
          "encoding": {
            "x": {"field": "f", "type": "quantitative", "scale": {"type": "log", "domain": [0.001, 1]}, "axis": null},
            "y": {"field": "psd", "type": "quantitative", "scale": {"domain": [0, 9], "nice": false}, "axis": null}
          }
        },
        {
          "data": {"name": "periods"},
          "mark": {"type": "rule", "color": "#333333", "strokeWidth": 1, "strokeDash": [8, 5]},
          "encoding": {
            "x": {"field": "f", "type": "quantitative", "scale": {"type": "log", "domain": [0.001, 1]}, "axis": null}
          }
        },
        {
          "data": {"name": "periods"},
          "mark": {"type": "text", "align": "right", "baseline": "middle", "dx": -8, "fontSize": 16, "fontWeight": "bold", "color": "#000000"},
          "encoding": {
            "x": {"field": "f", "type": "quantitative", "scale": {"type": "log", "domain": [0.001, 1]}, "axis": null},
            "y": {"datum": 8.25, "type": "quantitative", "scale": {"domain": [0, 9], "nice": false}, "axis": null},
            "text": {"field": "label"}
          }
        },
        {
          "data": {"values": [{"f": 0.835, "v": 7.37, "t": "b"}]},
          "mark": {"type": "text", "align": "center", "baseline": "middle", "fontSize": 19, "fontWeight": "bold", "color": "#000000"},
          "encoding": {
            "x": {"field": "f", "type": "quantitative", "scale": {"type": "log", "domain": [0.001, 1]},
              "axis": {"orient": "top", "title": null, "labels": false, "values": [0.001,0.002,0.003,0.004,0.005,0.006,0.007,0.008,0.009,0.01,0.02,0.03,0.04,0.05,0.06,0.07,0.08,0.09,0.1,0.2,0.3,0.4,0.5,0.6,0.7,0.8,0.9,1]}},
            "y": {"field": "v", "type": "quantitative", "scale": {"domain": [0, 9], "nice": false},
              "axis": {"orient": "right", "values": [0, 2, 4, 6, 8], "labels": false, "title": null}},
            "text": {"field": "t"}
          }
        }
      ]
    },
    {
      "width": 809, "height": 174,
      "resolve": {"axis": {"x": "independent", "y": "independent"}},
      "layer": [
        {
          "data": {"name": "boxes"},
          "mark": {"type": "line", "strokeWidth": 1, "point": {"filled": true, "size": 13}},
          "encoding": {
            "x": {"field": "f", "type": "quantitative", "scale": {"type": "log", "domain": [0.001, 1]},
              "axis": {"orient": "bottom", "title": "frequency [cpd]", "titleY": 34, "titleBaseline": "top", "labelPadding": 20,
                "values": [0.001,0.002,0.003,0.004,0.005,0.006,0.007,0.008,0.009,0.01,0.02,0.03,0.04,0.05,0.06,0.07,0.08,0.09,0.1,0.2,0.3,0.4,0.5,0.6,0.7,0.8,0.9,1],
                "labelExpr": "datum.value == 0.001 ? '10⁻³' : datum.value == 0.01 ? '10⁻²' : datum.value == 0.1 ? '10⁻¹' : datum.value == 1 ? '10⁰' : ''"}},
            "y": {"field": "p", "type": "quantitative", "scale": {"domain": [0, 1], "nice": false},
              "axis": {"orient": "left", "values": [0, 0.5, 1], "format": "~g", "title": "power spectral density [Sv²]", "labelPadding": 11, "titleX": -57, "titleY": -15, "titleAngle": 270, "titleBaseline": "middle", "titleAlign": "center"}},
            "color": {"field": "box", "type": "nominal",
              "scale": {"domain": ["Box1", "Box2", "Box3", "Box4"], "range": ["#00ffff", "#ff00ff", "#00ff00", "#000000"]},
              "legend": {"orient": "none", "legendX": 557, "legendY": 470, "title": null, "padding": 0,
                "symbolType": "M-5,0L5,0M-5.3,0A0.3,0.3,0,1,0,-4.7,0A0.3,0.3,0,1,0,-5.3,0M4.7,0A0.3,0.3,0,1,0,5.3,0A0.3,0.3,0,1,0,4.7,0",
                "symbolSize": 100, "symbolStrokeWidth": 1, "labelFontSize": 16, "labelFontWeight": "bold", "labelOffset": 34, "rowPadding": 0.5,
                "encode": {
                  "labels": {"update": {"fill": {"signal": "datum.value == 'Box1' ? '#00e5ff' : datum.value == 'Box2' ? '#ff00ff' : datum.value == 'Box3' ? '#00e000' : '#000000'"}}},
                  "symbols": {"update": {"fill": {"signal": "datum.value == 'Box1' ? '#00ffff' : datum.value == 'Box2' ? '#ff00ff' : datum.value == 'Box3' ? '#00ff00' : '#000000'"}, "stroke": {"signal": "datum.value == 'Box1' ? '#00ffff' : datum.value == 'Box2' ? '#ff00ff' : datum.value == 'Box3' ? '#00ff00' : '#000000'"}}}
                }}}
          }
        },
        {
          "data": {"name": "periods"},
          "mark": {"type": "rule", "color": "#333333", "strokeWidth": 1, "strokeDash": [8, 5]},
          "encoding": {
            "x": {"field": "f", "type": "quantitative", "scale": {"type": "log", "domain": [0.001, 1]}, "axis": null}
          }
        },
        {
          "data": {"name": "periods"},
          "mark": {"type": "text", "align": "right", "baseline": "middle", "dx": -8, "fontSize": 16, "fontWeight": "bold", "color": "#000000"},
          "encoding": {
            "x": {"field": "f", "type": "quantitative", "scale": {"type": "log", "domain": [0.001, 1]}, "axis": null},
            "y": {"datum": 0.912, "type": "quantitative", "scale": {"domain": [0, 1], "nice": false}, "axis": null},
            "text": {"field": "label"}
          }
        },
        {
          "data": {"values": [{"f": 0.83, "v": 0.837, "t": "c"}]},
          "mark": {"type": "text", "align": "center", "baseline": "middle", "fontSize": 19, "fontWeight": "bold", "color": "#000000"},
          "encoding": {
            "x": {"field": "f", "type": "quantitative", "scale": {"type": "log", "domain": [0.001, 1]},
              "axis": {"orient": "top", "title": null, "labels": false, "values": [0.001,0.002,0.003,0.004,0.005,0.006,0.007,0.008,0.009,0.01,0.02,0.03,0.04,0.05,0.06,0.07,0.08,0.09,0.1,0.2,0.3,0.4,0.5,0.6,0.7,0.8,0.9,1]}},
            "y": {"field": "v", "type": "quantitative", "scale": {"domain": [0, 1], "nice": false},
              "axis": {"orient": "right", "values": [0, 0.5, 1], "labels": false, "title": null}},
            "text": {"field": "t"}
          }
        }
      ]
    }
  ]
}
]
}
